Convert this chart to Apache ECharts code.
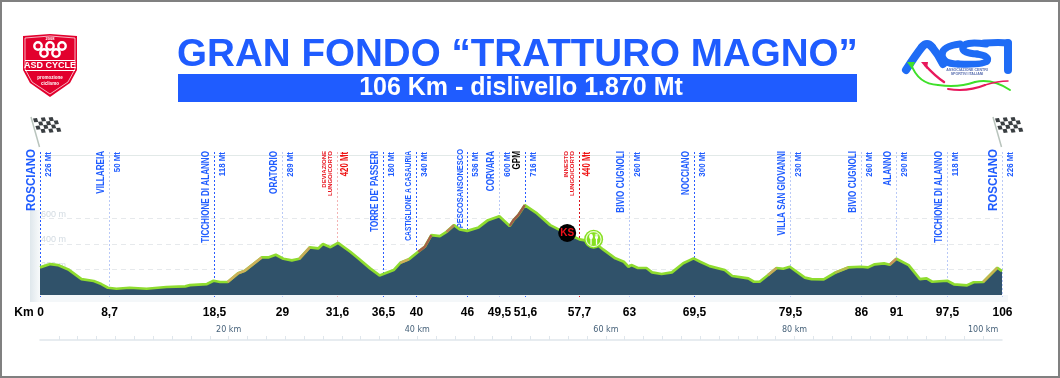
<!DOCTYPE html>
<html>
<head>
<meta charset="utf-8">
<style>
  html, body { margin: 0; padding: 0; background: #fff; }
  #main { width: 1060px; height: 378px; }
</style>
</head>
<body>
<div id="main"></div>
<script src="https://cdn.jsdelivr.net/npm/echarts@6/dist/echarts.min.js"></script>
<script>
// altimetria: distanza sulla scala in basso (km) e quota (m)
var profileKm = [0,1.1,1.9,3,4.4,5.7,6.5,7.2,8.1,9.5,11.3,13.4,15.4,15.9,17.7,18.4,19.1,19.9,21,21.7,23.5,24.2,25,25.8,26.7,27.5,28.6,29.5,30,30.8,31.6,32.9,33.8,35,36,37.5,38.2,39.1,40.1,40.8,41.5,42.4,43.1,43.9,44.5,45.3,46.5,47.5,48.7,49.8,50.2,50.7,51.4,52.7,54.1,55.5,57.2,58.7,59.7,61,61.9,62.4,62.7,63.4,64.3,64.9,65.9,67,68.2,69.3,70,71,72.6,73.4,75.1,75.7,76.3,77.2,78.1,78.8,79.5,81.1,81.8,83.1,84.3,85.7,87,87.8,88.5,89.5,90.1,90.8,92.1,93.3,94,94.6,96.2,96.9,98.3,99,100,101.5,102];
var profileEle = [217,243,235,201,125,110,86,57,49,57,49,63,68,78,86,112,102,102,170,190,295,295,316,285,272,285,374,366,400,376,410,340,285,209,154,196,253,280,340,379,470,463,496,549,515,504,531,588,619,543,588,627,706,641,549,496,437,418,358,288,261,222,235,212,212,178,165,178,249,288,261,227,196,149,131,104,104,157,212,206,222,136,125,123,175,217,222,217,241,248,238,285,235,125,131,104,112,84,76,100,102,214,188];

// tratti in salita colorati sopra la linea verde
var climbFrom = [19.9,27.5,38.2,40.1,43.1,49.8,77.2,84.3,90.1,100];
var climbTo = [23.5,28.6,39.1,41.5,43.9,51.4,78.1,85.7,90.8,101.5];
var climbColor = ['#cfae5c','#c9a85a','#cfae5c','#a8604a','#b9825a','#a05a4a','#c9a85a','#b7bd4c','#c98f5a','#c9b052'];

// punti del percorso
var markerX = [0,7.3,18.4,25.7,31.5,36.4,39.9,45.3,48.7,51.4,57.2,62.5,69.3,79.5,87,90.8,96.2,102];
var markerKm = ['0','8,7','18,5','29','31,6','36,5','40','46','49,5','51,6','57,7','63','69,5','79,5','86','91','97,5','106'];
var markerName = ['ROSCIANO','VILLAREIA','TICCHIONE DI ALANNO','ORATORIO','DEVIAZIONE|LUNGO/CORTO',"TORRE DE' PASSERI",'CASTIGLIONE A CASAURIA','PESCOSANSONESCO','CORVARA','GPM','INNESTO|LUNGO/CORTO','BIVIO CUGNOLI','NOCCIANO','VILLA SAN GIOVANNI','BIVIO CUGNOLI','ALANNO','TICCHIONE DI ALANNO','ROSCIANO'];
var markerAlt = ['226 Mt','50 Mt','118 Mt','289 Mt','420 Mt','180 Mt','340 Mt','536 Mt','600 Mt','716 Mt','440 Mt','260 Mt','300 Mt','230 Mt','260 Mt','290 Mt','118 Mt','226 Mt'];
var markerKind = ['main','soft','main','soft','softRed','main','main','main','soft','main','red','soft','main','soft','soft','soft','soft','soft'];

var gridLevels = [200,400,600];
var topLevel = 1100;
var scaleLabels = [20,40,60,80,100];

var kmStation = [55.9];
var kmStationEle = [488];
var foodStation = [58.7];
var foodStationEle = [439];

var BLUE = '#1f5cff';
var LINE_COLOR = { main: '#2a5cff', soft: '#b9c9f7', softRed: '#f3b4b4', red: '#d9141e' };
var FONT = '"Liberation Sans", Arial, sans-serif';
var NARROW = '"Liberation Sans Narrow", "Liberation Sans", Arial, sans-serif';

var profile = profileKm.map(function (km, i) { return [km, profileEle[i]]; });

var chart = echarts.init(document.getElementById('main'), null, { renderer: 'canvas' });

// testo verticale, la fine della scritta sta in alto; sx stringe la lunghezza
function rotated(x, y, text, color, font, sx) {
  return { type: 'text', x: x, y: y, rotation: Math.PI / 2, scaleX: sx || 1, silent: true,
    style: { text: text, fill: color, font: font, align: 'right', verticalAlign: 'middle' } };
}

function renderMarker(params, api) {
  var i = params.dataIndex;
  var x = Math.round(api.coord([api.value(0), 0])[0]) + 0.5;
  var kind = markerKind[i];
  var name = markerName[i];
  var kids = [
    { type: 'line', shape: { x1: x, y1: 152, x2: x, y2: 297 }, silent: true,
      style: { stroke: LINE_COLOR[kind], lineWidth: 1, lineDash: [2, 2] } },
    { type: 'text', x: x, y: 313, silent: true,
      style: { text: markerKm[i], fill: '#000', font: 'bold 12px ' + FONT, align: 'center', verticalAlign: 'middle' } }
  ];
  if (kind === 'red' || kind === 'softRed') {
    var two = name.split('|');
    kids.push(rotated(x - 13.5, 151, two[0], '#e8141e', 'bold 6px ' + NARROW));
    kids.push(rotated(x - 7, 151, two[1], '#e8141e', 'bold 6px ' + NARROW));
    kids.push(rotated(x + 8, 152, markerAlt[i], '#ee1111', 'bold 10px ' + NARROW, 0.78));
  } else {
    if (name === 'ROSCIANO') {
      kids.push(rotated(x - 9, 149, name, BLUE, 'bold 13px ' + FONT, 0.885));
    } else if (name === 'PESCOSANSONESCO') {
      kids.push(rotated(x - 7, 149, name, BLUE, 'bold 9px ' + NARROW, 0.83));
    } else if (name === 'CASTIGLIONE A CASAURIA') {
      kids.push(rotated(x - 8, 151, name, BLUE, 'bold 9px ' + NARROW, 0.745));
    } else {
      kids.push(rotated(x - 8, 151, name, name === 'GPM' ? '#000' : BLUE, 'bold 10px ' + NARROW, 0.81));
    }
    kids.push(rotated(x + 8, 152, markerAlt[i], BLUE, 'bold 9px ' + NARROW, 0.88));
  }
  return { type: 'group', children: kids };
}

// bandiera a scacchi
function flag(dx) {
  var kids = [{ type: 'line', shape: { x1: 31 + dx, y1: 117, x2: 39.5 + dx, y2: 147 },
    style: { stroke: '#b9c4bd', lineWidth: 1.5 } }];
  for (var r = 0; r < 4; r++) {
    for (var c = 0; c < 6; c++) {
      if ((r + c) % 2) continue;
      var x0 = 33 + dx + c * 3.9 + r * 1.2, y0 = 118.5 + r * 3.7 - c * 0.4 + (c > 2 ? 0.5 : 0);
      kids.push({ type: 'polygon', shape: { points: [[x0, y0], [x0 + 4, y0 - 0.4], [x0 + 5.2, y0 + 3.4], [x0 + 1.2, y0 + 3.8]] },
        style: { fill: '#3a3f42' } });
    }
  }
  return { type: 'group', silent: true, children: kids };
}

// logo ASD CYCLE
function asdLogo() {
  var kids = [
    { type: 'polygon', shape: { points: [[23, 36], [50, 34], [77, 36], [77, 70], [70, 83], [50, 97], [30, 83], [23, 70]] }, style: { fill: '#e2002d' } },
    { type: 'polyline', shape: { points: [[25, 38], [50, 36], [75, 38], [75, 69], [68, 82], [50, 94], [32, 82], [25, 69], [25, 38]] }, style: { stroke: '#fff', lineWidth: 0.7, fill: null } },
    { type: 'text', style: { text: '2008', x: 50, y: 37, fill: '#fff', font: 'bold 4px ' + FONT, align: 'center' } },
    { type: 'rect', shape: { x: 25, y: 60, width: 50, height: 1 }, style: { fill: '#fff' } },
    { type: 'rect', shape: { x: 25, y: 70, width: 50, height: 1 }, style: { fill: '#fff' } },
    { type: 'text', style: { text: 'ASD CYCLE', x: 50, y: 61, fill: '#fff', font: 'bold 9px ' + NARROW, align: 'center' } },
    { type: 'text', style: { text: 'promozione', x: 50, y: 75, fill: '#fff', font: 'bold 4.5px ' + FONT, align: 'center' } },
    { type: 'text', style: { text: 'ciclismo', x: 50, y: 81, fill: '#fff', font: 'bold 4.5px ' + FONT, align: 'center' } }
  ];
  [[38, 46], [50, 46], [62, 46], [44, 53], [56, 53]].forEach(function (p) {
    kids.push({ type: 'circle', shape: { cx: p[0], cy: p[1], r: 3.7 }, style: { fill: '#e2002d', stroke: '#fff', lineWidth: 2.4 } });
  });
  return { type: 'group', silent: true, children: kids };
}

// logo ACSI
function acsiLogo() {
  var blue = '#1f6cf5';
  function q(x1, y1, cx, cy, x2, y2, stroke, w) {
    return { type: 'bezierCurve', shape: { x1: x1, y1: y1, cpx1: cx, cpy1: cy, x2: x2, y2: y2 },
      style: { stroke: stroke, lineWidth: w, fill: null, lineCap: 'round' } };
  }
  return { type: 'group', silent: true, children: [
    q(906, 70, 915, 56, 922, 47, blue, 8),
    q(922, 47, 927, 41, 932, 47, blue, 8),
    q(932, 47, 938, 54, 943, 64, blue, 8),
    q(960, 44, 943, 46, 942, 54, blue, 7),
    q(942, 54, 942, 64, 958, 64, blue, 7),
    q(986, 44, 963, 41, 963, 48, blue, 7),
    q(963, 48, 962, 53, 977, 54, blue, 7),
    q(977, 54, 990, 56, 987, 61, blue, 7),
    q(987, 61, 984, 65, 958, 64, blue, 7),
    q(984, 43, 1000, 42, 1008, 43, blue, 7),
    q(1008, 43, 1008, 56, 1008, 70, blue, 8),
    q(911, 64, 918, 84, 938, 85, '#3fe02a', 2),
    q(938, 85, 958, 88, 975, 82, '#3fe02a', 2),
    q(975, 82, 992, 78, 1010, 90, '#3fe02a', 2),
    { type: 'polygon', shape: { points: [[907, 62], [915, 62], [912, 69]] }, style: { fill: '#3fe02a' } },
    q(925, 65, 935, 76, 944, 82, '#e8185c', 2.5),
    { type: 'polygon', shape: { points: [[921, 62], [928, 62], [927, 69]] }, style: { fill: '#e8185c' } },
    q(948, 89, 968, 92, 985, 85, '#e8185c', 2),
    q(985, 85, 998, 81, 1008, 81, '#e8185c', 1.5),
    { type: 'text', style: { text: 'ASSOCIAZIONE CENTRI', x: 967, y: 68, fill: '#5a6fb0', font: 'bold 3.6px ' + FONT, align: 'center' } },
    { type: 'text', style: { text: 'SPORTIVI ITALIANI', x: 967, y: 72, fill: '#5a6fb0', font: 'bold 3.6px ' + FONT, align: 'center' } }
  ] };
}

var FORK = 'path://M3 0 Q0 0 0 4 Q0 7 2 8 L2 16 L4 16 L4 8 Q6 7 6 4 Q6 0 3 0 Z M9 0 L9 5 Q9 7 10.5 8 L10.5 16 L12.5 16 L12.5 8 Q14 7 14 5 L14 0 L13 0 L13 4 L12.2 4 L12.2 0 L11 0 L11 4 L10 4 L10 0 Z';

var series = [
  { type: 'custom', name: 'punti', renderItem: renderMarker, data: markerX.map(function (x) { return [x]; }),
    encode: { x: 0 }, z: 1, silent: true, clip: false },
  { type: 'line', name: 'quote', data: [], z: 1, silent: true, markLine: {
      z: 1, silent: true, symbol: 'none', animation: false,
      label: { show: true, position: 'insideStartTop', distance: [1, 0], color: '#d3dbe2', fontSize: 9, fontFamily: FONT,
        formatter: function (p) { return p.value === topLevel ? '' : p.value + ' m'; } },
      data: gridLevels.map(function (v) {
        return { yAxis: v, lineStyle: { color: '#e6e9ec', type: [5, 4], width: 1 } };
      }).concat([{ yAxis: topLevel, lineStyle: { color: '#e2e9e8', type: 'solid', width: 1 } }])
    } },
  { type: 'line', name: 'altimetria', data: profile, symbol: 'none', z: 3, silent: true,
    lineStyle: { color: '#8fdc2f', width: 2.7 }, areaStyle: { color: '#30526a', opacity: 1 } }
];
climbFrom.forEach(function (from, i) {
  series.push({ type: 'line', name: 'salita ' + i, symbol: 'none', z: 4, silent: true,
    data: profile.filter(function (p) { return p[0] >= from && p[0] <= climbTo[i]; }),
    lineStyle: { color: climbColor[i], width: 2.4 } });
});
var foodData = foodStation.map(function (x, i) { return [x, foodStationEle[i]]; });
series.push(
  { type: 'scatter', name: 'KS', data: kmStation.map(function (x, i) { return [x, kmStationEle[i]]; }), z: 6, symbolSize: 18, silent: true,
    itemStyle: { color: '#000', opacity: 1 },
    label: { show: true, position: 'inside', formatter: 'KS', color: '#f0101a', fontSize: 10, fontWeight: 'bold', fontFamily: FONT } },
  { type: 'scatter', name: 'ristoro bordo', data: foodData, z: 6, symbolSize: 19, silent: true,
    itemStyle: { color: '#86e020', opacity: 1 } },
  { type: 'scatter', name: 'ristoro', data: foodData, z: 6, symbolSize: 15, silent: true,
    itemStyle: { color: '#86e020', borderColor: '#eafbd0', borderWidth: 1.2, opacity: 1 } },
  { type: 'scatter', name: 'ristoro icona', data: foodData, z: 7, symbol: FORK, symbolSize: [9, 11], silent: true,
    itemStyle: { color: '#fff', opacity: 1 } }
);

chart.setOption({
  animation: false,
  backgroundColor: '#fff',
  grid: [
    { left: 40, top: 155, width: 962, height: 140 },
    { left: 40, top: 339, width: 962, height: 1 }
  ],
  xAxis: [
    { type: 'value', gridIndex: 0, min: 0, max: 102, show: false },
    { type: 'value', gridIndex: 1, min: 0, max: 102, interval: 2,
      axisLine: { show: true, lineStyle: { color: '#dfe6ec', width: 1.5 } },
      axisTick: { show: true, inside: true, length: 4, lineStyle: { color: '#dfe6ec' } },
      splitLine: { show: false },
      axisLabel: { show: true, inside: true, margin: 6, color: '#47627a', fontSize: 8, fontFamily: '"DejaVu Sans", sans-serif', hideOverlap: false, showMinLabel: false, showMaxLabel: false,
        formatter: function (v) { return scaleLabels.indexOf(v) >= 0 ? v + ' km' : ''; } } }
  ],
  yAxis: [
    { type: 'value', gridIndex: 0, min: 0, max: topLevel, show: false },
    { type: 'value', gridIndex: 1, min: 0, max: 1, show: false }
  ],
  series: series,
  graphic: { elements: [
    { type: 'rect', z: -10, silent: true, shape: { x: 1, y: 1, width: 1058, height: 376 }, style: { fill: '#fff', stroke: '#808080', lineWidth: 2 } },
    { type: 'rect', z: -9, silent: true, shape: { x: 30, y: 295, width: 978, height: 7 }, style: { fill: '#f4f7f9' } },
    { type: 'rect', z: -9, silent: true, shape: { x: 30, y: 210, width: 10, height: 92 },
      style: { fill: new echarts.graphic.LinearGradient(0, 0, 1, 0, [{ offset: 0, color: '#dfe7ec' }, { offset: 1, color: '#f8fafb' }]) } },
    { type: 'rect', silent: true, shape: { x: 178, y: 74, width: 679, height: 28 }, style: { fill: BLUE } },
    { type: 'text', silent: true, style: { text: 'GRAN FONDO “TRATTURO MAGNO”', x: 517.5, y: 55, fill: BLUE, font: 'bold 38.6px ' + FONT, align: 'center', verticalAlign: 'middle' } },
    { type: 'text', silent: true, style: { text: '106 Km - dislivello 1.870 Mt', x: 521, y: 88, fill: '#fff', font: 'bold 25px ' + FONT, align: 'center', verticalAlign: 'middle' } },
    { type: 'text', silent: true, style: { text: 'Km', x: 24, y: 313, fill: '#000', font: 'bold 12px ' + FONT, align: 'center', verticalAlign: 'middle' } },
    asdLogo(), acsiLogo(), flag(0), flag(962)
  ] }
});
</script>
</body>
</html>
